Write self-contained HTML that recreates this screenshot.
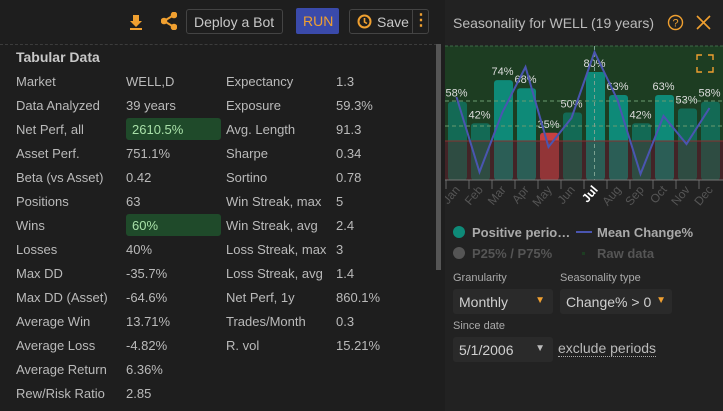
<!DOCTYPE html>
<html><head><meta charset="utf-8"><style>
*{box-sizing:border-box;margin:0;padding:0}
body{width:723px;height:411px;background:#1e1e1e;font-family:"Liberation Sans",sans-serif;color:#bdbdbd;position:relative;overflow:hidden;font-size:13px}
.abs{position:absolute}
.row{position:absolute;font-size:13px;color:#bababa;white-space:nowrap}
.hl{position:absolute;background:#1f4a2a;border-radius:3px;height:22px}
.btn{position:absolute;border:1px solid #444;border-radius:3px;height:25px;top:9px}
.sel{position:absolute;background:#2a2a2a;border-radius:3px;height:25px;font-size:14px;color:#d0d0d0;padding:5px 6px}
.lbl{position:absolute;font-size:11px;color:#aaa}
</style></head><body>
<div class="abs" style="left:0;top:0;width:437px;height:411px;background:#1e1e1e"></div>
<div class="abs" style="left:0;top:44px;width:437px;border-top:1px dashed #3c3c3c"></div>
<svg class="abs" style="left:129px;top:14px" width="14" height="16"><path d="M4 1h6v6h3l-6 6-6-6h3z M1 14h12v2H1z" fill="#f0a030"/></svg>
<svg class="abs" style="left:161px;top:12px" width="16" height="18"><g stroke="#f0a030" stroke-width="2" fill="#f0a030"><circle cx="13" cy="3" r="2.3"/><circle cx="3" cy="9" r="2.3"/><circle cx="13" cy="15" r="2.3"/><line x1="3" y1="9" x2="13" y2="3"/><line x1="3" y1="9" x2="13" y2="15"/></g></svg>
<div class="btn" style="left:186px;width:97px;font-size:14px;color:#c8c8c8;padding:4px 7px">Deploy a Bot</div>
<div class="abs" style="left:296px;top:8px;width:43px;height:26px;background:#3a4aaa;border-radius:2px;color:#f0a030;font-size:14px;padding:5px 7px">RUN</div>
<div class="btn" style="left:349px;width:80px;font-size:14px;color:#c8c8c8;padding:4px 0 0 27px">Save</div>
<svg class="abs" style="left:357px;top:14px" width="15" height="15"><circle cx="7.5" cy="7.5" r="6" stroke="#f0a030" stroke-width="2" fill="none"/><path d="M7.5 4v4l2.5 1.5" stroke="#f0a030" stroke-width="1.6" fill="none"/></svg>
<div class="abs" style="left:412px;top:10px;height:23px;border-left:1px solid #444;width:17px;color:#f0a030;font-size:16px;text-align:center;line-height:22px;font-weight:bold">⋮</div>
<div class="abs" style="left:436px;top:44px;width:5px;height:226px;background:#555"></div>
<div class="abs" style="left:16px;top:49px;font-size:14px;font-weight:bold;color:#c8c8c8">Tabular Data</div>
<div class="hl" style="left:126px;top:118px;width:95px"></div>
<div class="hl" style="left:126px;top:214px;width:95px"></div>
<div id="tbl"></div>
<div class="abs" style="left:445px;top:0;width:278px;height:411px;background:#222"></div>
<div class="abs" style="left:453px;top:15px;font-size:14px;color:#bbb">Seasonality for WELL (19 years)</div>
<svg class="abs" style="left:667px;top:14px" width="17" height="17"><circle cx="8.5" cy="8.5" r="7" stroke="#f0a030" stroke-width="1.4" fill="none"/><text x="8.5" y="12.5" font-size="11" fill="#f0a030" text-anchor="middle" font-family="Liberation Sans">?</text></svg>
<svg class="abs" style="left:696px;top:15px" width="15" height="15"><path d="M1 1L14 14M14 1L1 14" stroke="#f0a030" stroke-width="1.6"/></svg>
<svg class="abs" id="chart" style="left:445px;top:40px" width="278" height="230"></svg>
<div class="sel" style="left:453px;top:289px;width:100px">Monthly<span style="position:absolute;right:8px;top:6px;color:#f0a030;font-size:10px">▼</span></div>
<div class="lbl" style="left:453px;top:272px">Granularity</div>
<div class="lbl" style="left:560px;top:272px">Seasonality type</div>
<div class="sel" style="left:560px;top:289px;width:112px">Change% &gt; 0<span style="position:absolute;right:6px;top:6px;color:#f0a030;font-size:10px">▼</span></div>
<div class="lbl" style="left:453px;top:320px">Since date</div>
<div class="sel" style="left:453px;top:337px;width:100px">5/1/2006<span style="position:absolute;right:8px;top:6px;color:#bbb;font-size:10px">▼</span></div>
<div class="abs" style="left:558px;top:340px;font-size:14px;color:#bbb;border-bottom:1px dotted #aaa;line-height:16px">exclude periods</div>
<script>
const rows=[["Market","WELL,D","Expectancy","1.3"],["Data Analyzed","39 years","Exposure","59.3%"],["Net Perf, all","2610.5%","Avg. Length","91.3"],["Asset Perf.","751.1%","Sharpe","0.34"],["Beta (vs Asset)","0.42","Sortino","0.78"],["Positions","63","Win Streak, max","5"],["Wins","60%","Win Streak, avg","2.4"],["Losses","40%","Loss Streak, max","3"],["Max DD","-35.7%","Loss Streak, avg","1.4"],["Max DD (Asset)","-64.6%","Net Perf, 1y","860.1%"],["Average Win","13.71%","Trades/Month","0.3"],["Average Loss","-4.82%","R. vol","15.21%"],["Average Return","6.36%","",""],["Rew/Risk Ratio","2.85","",""]];
const tbl=document.getElementById('tbl');const xs=[16,126,226,336];
rows.forEach((r,i)=>{r.forEach((t,j)=>{if(!t)return;const d=document.createElement('div');d.className='row';d.style.left=(xs[j]+(j==1&&(i==2||i==6)?6:0))+'px';d.style.top=(74+i*24)+'px';if(j==1&&(i==2||i==6))d.style.color='#a8e0a8';d.textContent=t;


tbl.appendChild(d);});});

const months=["Jan","Feb","Mar","Apr","May","Jun","Jul","Aug","Sep","Oct","Nov","Dec"];
const positive=[58,42,74,68,35,50,80,63,42,63,53,58];
const meanChange=[2.2,-1.55,1.45,3.7,-0.3,1.15,4.45,2.05,-1.65,1.25,-0.15,1.65];
const svg=document.getElementById('chart');const NS='http://www.w3.org/2000/svg';
function el(t,a){const e=document.createElementNS(NS,t);for(const k in a)e.setAttribute(k,a[k]);svg.appendChild(e);return e;}
const step=23,x0=0,base=140;
const xb=i=>x0+i*step, xc=i=>x0+(i+0.5)*step;
const yP=v=>base-v*1.35;
const yM=v=>101-v*20;
let e;
e=el('rect',{x:0,y:6,width:278,height:95,fill:'#1d3d22'});
e=el('rect',{x:0,y:101,width:278,height:39,fill:'#3a2224'});
e=el('line',{x1:0,y1:6,x2:278,y2:6,stroke:'#3e6a48','stroke-dasharray':'3,2'});
months.forEach((m,i)=>{const v=positive[i];const col=v<40?'#c84040':(v>60?'#0e8a78':'#136a55');
const b=el('rect',{x:xb(i)+3,y:yP(v),width:step-4,height:base-yP(v),rx:3,fill:col});


const t=el('text',{x:xc(i),y:yP(v)-5,'font-size':11,fill:'#ddd','text-anchor':'middle','font-family':'Liberation Sans'});t.textContent=v+'%';


const l=el('text',{transform:`translate(${xc(i)+4},${base+10}) rotate(-50)`,'font-size':12,fill:i==6?'#fff':'#555','font-weight':i==6?'bold':'normal','text-anchor':'end','font-family':'Liberation Sans'});l.textContent=m;


const tk=el('line',{x1:xb(i)+1,y1:base,x2:xb(i)+1,y2:base+9,stroke:'#666'});


});
e=el('rect',{x:0,y:101,width:278,height:39,fill:'rgba(80,40,45,0.45)'});
e=el('line',{x1:0,y1:101,x2:278,y2:101,stroke:'#8a3030','stroke-width':1});
e=el('line',{x1:0,y1:61,x2:278,y2:61,stroke:'#6a9a70','stroke-dasharray':'4,3'});
e=el('line',{x1:0,y1:86,x2:278,y2:86,stroke:'#6a9a70','stroke-dasharray':'4,3'});
e=el('line',{x1:xc(6),y1:6,x2:xc(6),y2:base,stroke:'#7aa090','stroke-dasharray':'4,3'});
e=el('line',{x1:0,y1:base,x2:278,y2:base,stroke:'#777'});
e=el('polyline',{points:meanChange.map((v,i)=>xc(i)+','+yM(v)).join(' '),fill:'none',stroke:'#4a55b0','stroke-width':2});

e=el('path',{d:'M252 20v-5h5 M263 15h5v5 M268 27v5h-5 M257 32h-5v-5',stroke:'#f0a030','stroke-width':1.4,fill:'none'});
// legend
e=el('circle',{cx:14,cy:192,r:6,fill:'#0e8a78'});
e=el('text',{x:27,y:197,'font-size':13,'font-weight':'bold',fill:'#aaa','font-family':'Liberation Sans'});e.textContent='Positive perio…';
e=el('line',{x1:131,y1:192,x2:147,y2:192,stroke:'#4a55b0','stroke-width':2});
e=el('text',{x:152,y:197,'font-size':13,'font-weight':'bold',fill:'#aaa','font-family':'Liberation Sans'});e.textContent='Mean Change%';
e=el('circle',{cx:14,cy:213,r:6,fill:'#555'});
e=el('text',{x:27,y:218,'font-size':13,'font-weight':'bold',fill:'#555','font-family':'Liberation Sans'});e.textContent='P25% / P75%';
e=el('rect',{x:137,y:212,width:3,height:3,fill:'#1d3d22'});
e=el('text',{x:152,y:218,'font-size':13,'font-weight':'bold',fill:'#555','font-family':'Liberation Sans'});e.textContent='Raw data';
</script>
</body></html>
